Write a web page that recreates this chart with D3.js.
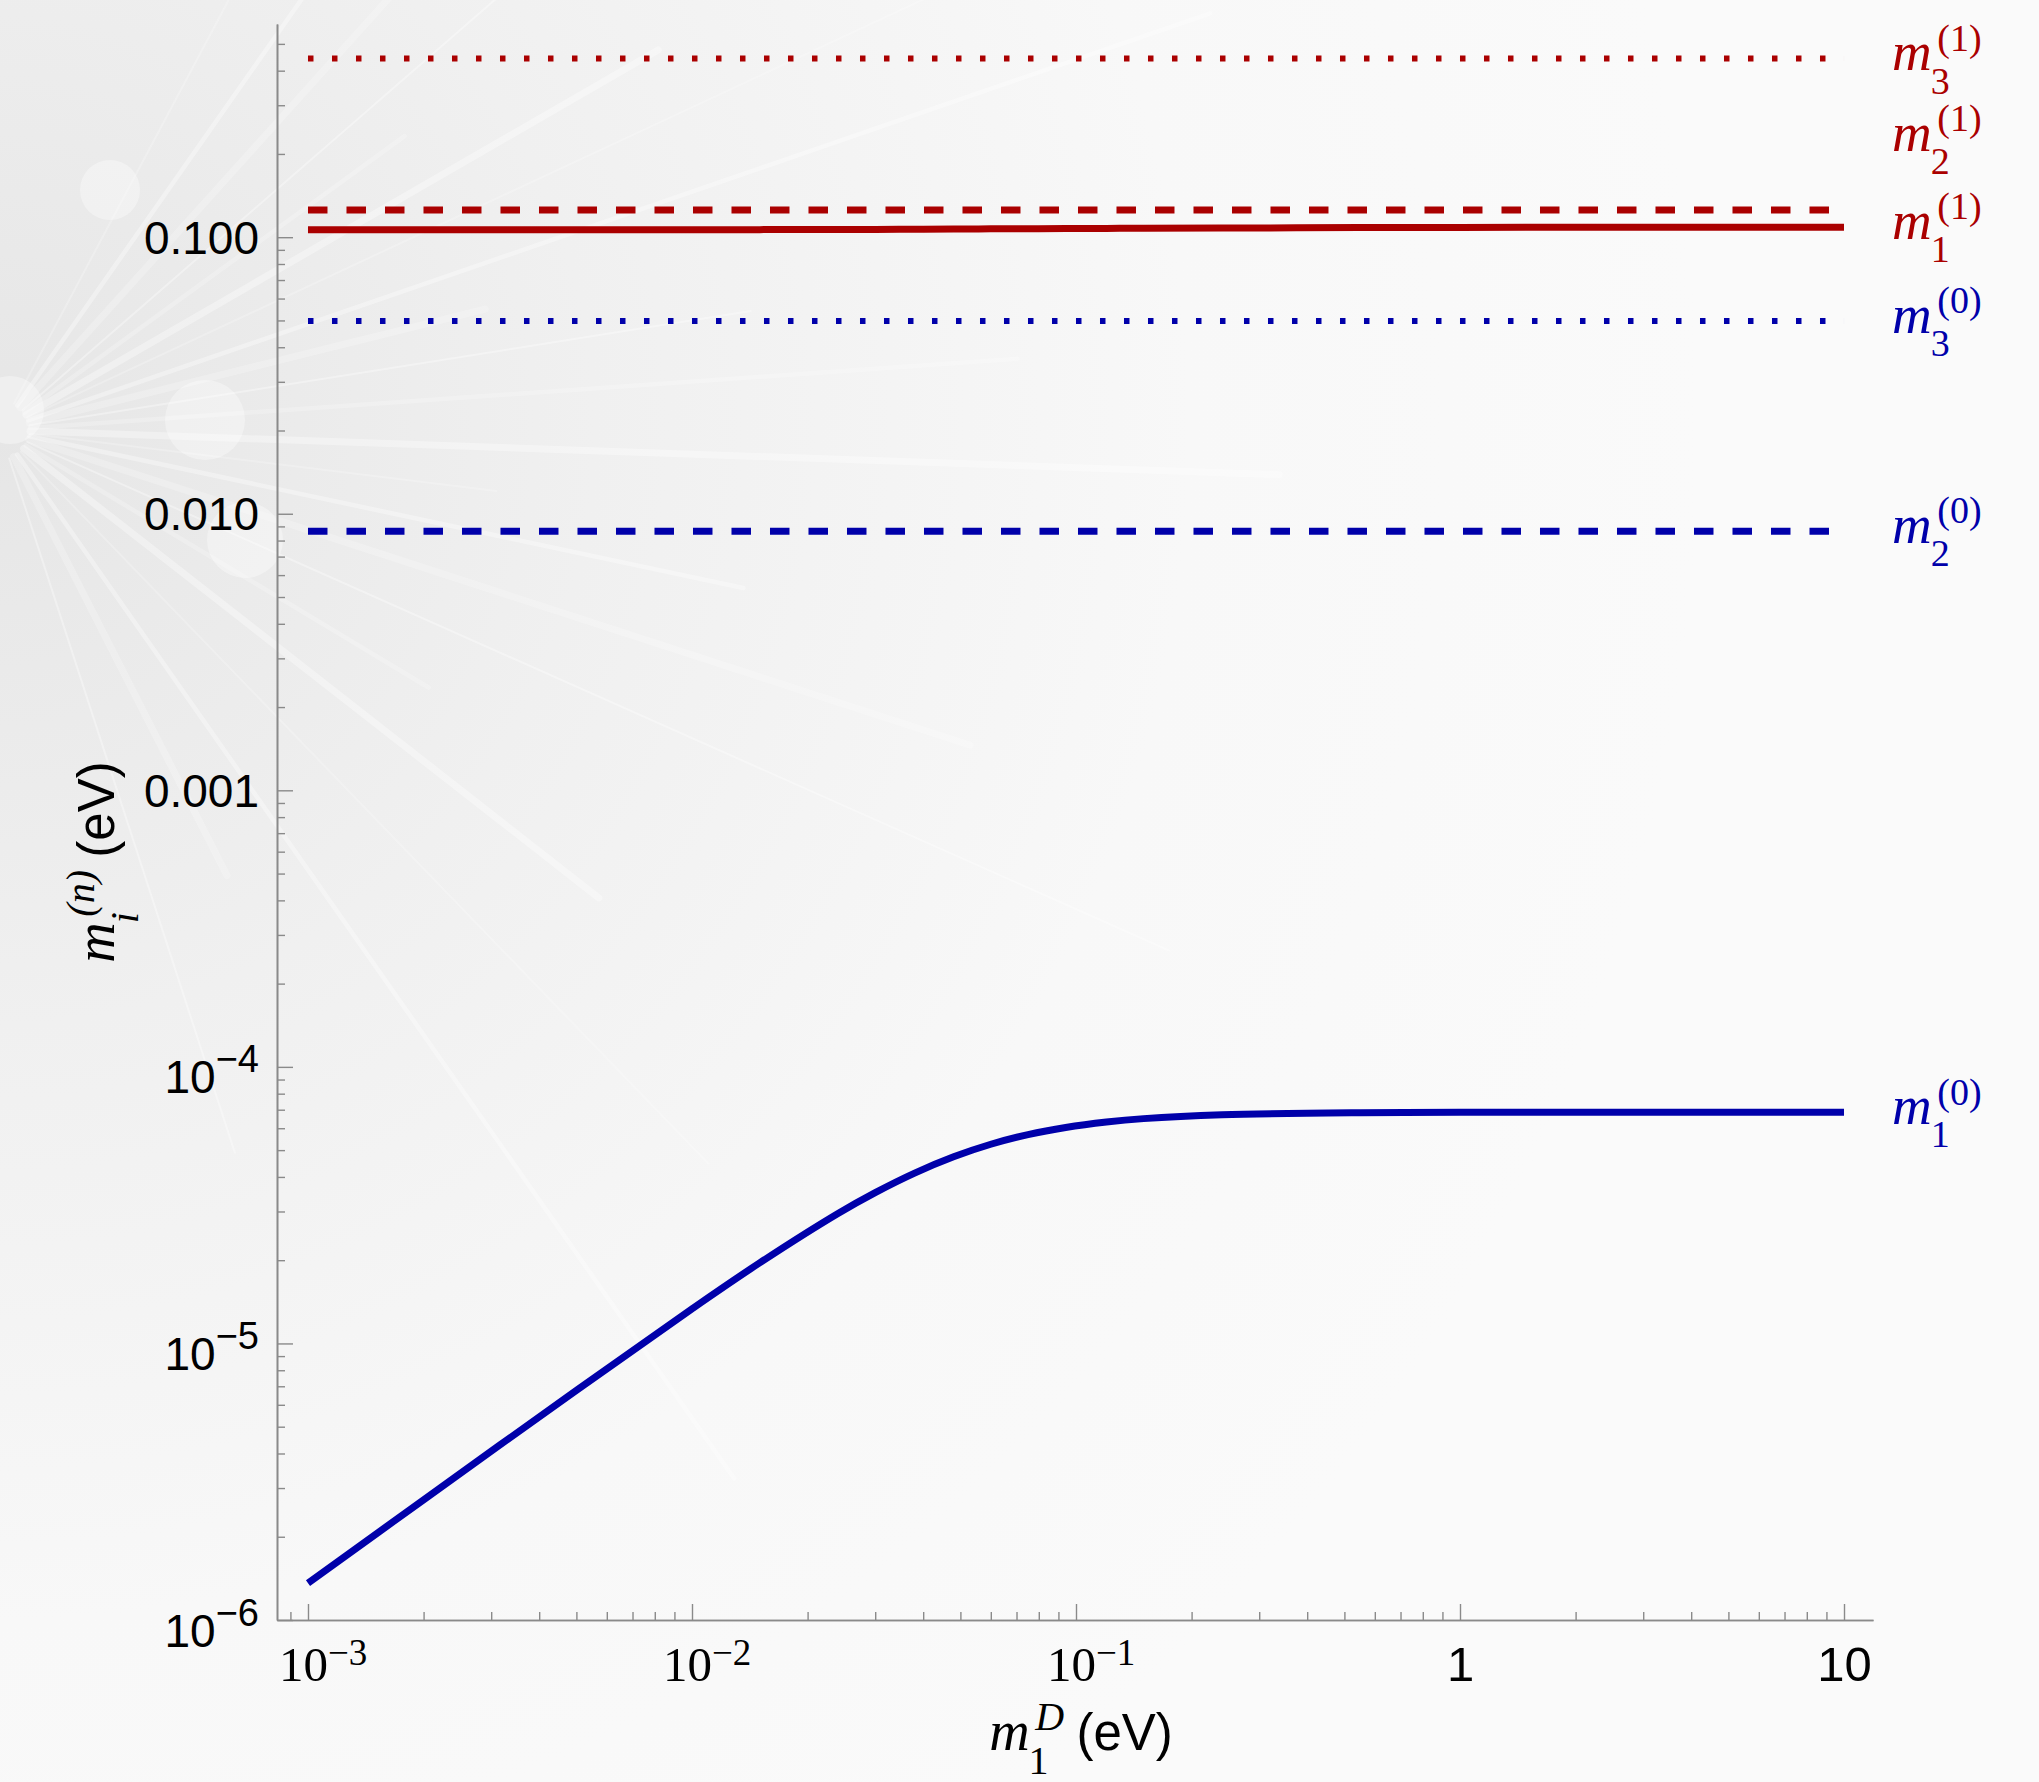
<!DOCTYPE html>
<html><head>
<meta charset="utf-8">
<title>Neutrino masses</title>
<script src="https://d3js.org/d3.v7.min.js"></script>
<style>
  body { margin: 0; background: #f8f8f8; }
  text { font-family: "Liberation Sans", Arial, sans-serif; }
  .serif { font-family: "Liberation Serif", "Times New Roman", serif; }
</style>
</head>
<body>
<div id="chart"></div>
<script>
    const svgWidth = 2039;
    const svgHeight = 1782;

    const red = "#aa0000";
    const blue = "#0000aa";

    // values
    const mD   = [0.001, 0.002, 0.005, 0.01, 0.015, 0.024, 0.03, 0.038, 0.048, 0.06, 0.075, 0.094, 0.12, 0.15, 0.24, 0.55, 1, 3, 10];
    const m1_0 = [1.36e-6, 2.72e-6, 6.77e-6, 1.334e-5, 1.955e-5, 2.95e-5, 3.51e-5, 4.13e-5, 4.73e-5, 5.25e-5, 5.69e-5, 6.04e-5, 6.32e-5, 6.50e-5, 6.71e-5, 6.83e-5, 6.85e-5, 6.85e-5, 6.85e-5];
    const m1_1 = [0.1063, 0.1063, 0.1064, 0.1065, 0.1065, 0.1066, 0.1067, 0.1069, 0.1070, 0.1072, 0.1073, 0.1074, 0.1076, 0.1077, 0.1079, 0.1083, 0.1085, 0.1087, 0.1087];
    const flatX = [0.001, 10];
    const m2_0 = [0.00865, 0.00865];
    const m3_0 = [0.0498, 0.0498];
    const m2_1 = [0.1255, 0.1255];
    const m3_1 = [0.443, 0.443];

    // line labels on the right
    const labelSub = ["3", "2", "1", "3", "2", "1"];
    const labelSup = ["(1)", "(1)", "(1)", "(0)", "(0)", "(0)"];
    const labelAt  = [0.443, 0.226, 0.1087, 0.0498, 0.00865, 6.85e-5];
    const labelColor = [red, red, red, blue, blue, blue];

    // ticks
    const xTicks = [0.001, 0.01, 0.1, 1, 10];
    const xTickBase = ["10", "10", "10", "1", "10"];
    const xTickExp  = ["\u22123", "\u22122", "\u22121", "", ""];
    const yTicks = [0.1, 0.01, 0.001, 1e-4, 1e-5, 1e-6];
    const yTickBase = ["0.100", "0.010", "0.001", "10", "10", "10"];
    const yTickExp  = ["", "", "", "\u22124", "\u22125", "\u22126"];

    const series = [
        {xs: mD,    ys: m1_0, color: blue, dash: null,       w: 7},
        {xs: flatX, ys: m2_0, color: blue, dash: "19.5 19",  w: 7},
        {xs: flatX, ys: m3_0, color: blue, dash: "5.5 18.5", w: 6},
        {xs: mD,    ys: m1_1, color: red,  dash: null,       w: 7},
        {xs: flatX, ys: m2_1, color: red,  dash: "19.5 19",  w: 7},
        {xs: flatX, ys: m3_1, color: red,  dash: "5.5 18.5", w: 6}
    ];

    const svg = d3.select("#chart").append("svg")
        .attr("width", svgWidth)
        .attr("height", svgHeight);

    // faint photo-like backdrop
    const defs = svg.append("defs");
    const rg = defs.append("radialGradient").attr("id", "bg")
        .attr("gradientUnits", "userSpaceOnUse")
        .attr("cx", 0).attr("cy", 430).attr("r", 1700);
    rg.append("stop").attr("offset", 0).attr("stop-color", "#e6e6e6");
    rg.append("stop").attr("offset", 0.35).attr("stop-color", "#f0f0f0");
    rg.append("stop").attr("offset", 0.7).attr("stop-color", "#f8f8f8");
    rg.append("stop").attr("offset", 1).attr("stop-color", "#fafafa");
    svg.append("rect").attr("width", svgWidth).attr("height", svgHeight).attr("fill", "url(#bg)");

    const rays = svg.append("g").attr("stroke", "#ffffff").attr("stroke-linecap", "round");
    const rayAngles = [-62, -55, -48, -41, -36, -30, -25, -19, -14, -9, -4, 2, 7, 12, 18, 24, 31, 38, 46, 55, 63, 72];
    rayAngles.forEach((a, i) => {
        const len = 500 + (i % 4) * 260;
        const r = a * Math.PI / 180;
        rays.append("line")
            .attr("x1", 30 * Math.cos(r)).attr("y1", 430 + 30 * Math.sin(r))
            .attr("x2", len * Math.cos(r)).attr("y2", 430 + len * Math.sin(r))
            .attr("stroke-width", 2 + (i % 3) * 2.5)
            .attr("stroke-opacity", 0.22 + (i % 2) * 0.12);
    });
    [[10, 410, 34], [205, 420, 40], [245, 540, 38], [110, 190, 30]].forEach(c => {
        svg.append("circle").attr("cx", c[0]).attr("cy", c[1]).attr("r", c[2])
            .attr("fill", "#ffffff").attr("fill-opacity", 0.35);
    });

    // scales: small padding around the data like the original
    const xScale = d3.scaleLog().domain([Math.pow(10, -3.0807), Math.pow(10, 1.0755)]).range([277, 1873]);
    const yScale = d3.scaleLog().domain([1e-6, 0.59]).range([1620, 24]);

    function minorTicks(lo, hi) {
        const out = [];
        for (let e = -7; e <= 1; e++) {
            for (let k = 2; k <= 9; k++) {
                const v = k * Math.pow(10, e);
                if (v > lo && v < hi) out.push(v);
            }
        }
        return out;
    }

    const axisColor = "#8a8a8a";
    function styleAxis(g) {
        g.select(".domain").attr("stroke", axisColor).attr("stroke-width", 1.6);
        g.selectAll(".tick line").attr("stroke", axisColor).attr("stroke-width", 1.4);
    }

    // x axis
    const xMinor = svg.append("g").attr("transform", "translate(0,1620)")
        .call(d3.axisBottom(xScale).tickValues(minorTicks(...xScale.domain())).tickSizeInner(-8).tickSizeOuter(0).tickFormat(""));
    styleAxis(xMinor);
    const xAxis = svg.append("g").attr("transform", "translate(0,1620)")
        .call(d3.axisBottom(xScale).tickValues(xTicks).tickSizeInner(-16).tickSizeOuter(0).tickFormat(""));
    styleAxis(xAxis);
    xAxis.selectAll(".tick").each(function (d, i) {
        const t = d3.select(this).append("text")
            .attr("fill", "#000").attr("y", 61)
            .attr("text-anchor", "middle")
            .style("font-size", "49px");
        if (xTickExp[i]) {
            t.attr("class", "serif").attr("dx", "0.3em");
            t.append("tspan").text(xTickBase[i]);
            t.append("tspan").attr("dy", "-0.42em").style("font-size", "37px").text(xTickExp[i]);
        } else {
            t.text(xTickBase[i]);
        }
    });

    // y axis
    const yMinor = svg.append("g").attr("transform", "translate(277,0)")
        .call(d3.axisLeft(yScale).tickValues(minorTicks(...yScale.domain())).tickSizeInner(-8).tickSizeOuter(0).tickFormat(""));
    styleAxis(yMinor);
    const yAxis = svg.append("g").attr("transform", "translate(277,0)")
        .call(d3.axisLeft(yScale).tickValues(yTicks).tickSizeInner(-16).tickSizeOuter(0).tickFormat(""));
    styleAxis(yAxis);
    yAxis.selectAll(".tick").each(function (d, i) {
        const t = d3.select(this).append("text")
            .attr("fill", "#000").attr("x", -18)
            .attr("text-anchor", "end")
            .style("font-size", "46px");
        if (yTickExp[i]) {
            t.attr("y", 26);
            t.append("tspan").text(yTickBase[i]);
            t.append("tspan").attr("dy", "-0.55em").style("font-size", "38px").text(yTickExp[i]);
        } else {
            t.attr("y", 16).text(yTickBase[i]);
        }
    });

    // lines
    const line = d3.line()
        .x(d => xScale(d[0]))
        .y(d => yScale(d[1]))
        .curve(d3.curveCatmullRom.alpha(0.5));

    series.forEach(s => {
        svg.append("path")
            .datum(s.xs.map((x, i) => [x, s.ys[i]]))
            .attr("fill", "none")
            .attr("stroke", s.color)
            .attr("stroke-width", s.w)
            .attr("stroke-dasharray", s.dash)
            .attr("d", line);
    });

    // m_sub^sup builder
    function mathLabel(parent, o) {
        const g = parent.append("g").attr("fill", o.color);
        const m = g.append("text").attr("class", "serif")
            .style("font-style", "italic").style("font-size", o.size + "px").text("m");
        const w = m.node().getComputedTextLength();
        const sub = g.append("text").attr("class", "serif")
            .attr("x", w - 0.02 * o.size).attr("y", 0.42 * o.size)
            .style("font-size", o.small + "px")
            .style("font-style", o.subItalic ? "italic" : "normal").text(o.sub);
        const sup = g.append("text").attr("class", "serif")
            .attr("x", w + 0.1 * o.size).attr("y", -0.36 * o.size)
            .style("font-size", o.small + "px")
            .style("font-style", o.supItalic ? "italic" : "normal").text(o.sup);
        let end = Math.max(w + sub.node().getComputedTextLength(), w + 0.1 * o.size + sup.node().getComputedTextLength());
        if (o.tail) {
            const t = g.append("text").attr("x", end + 0.22 * o.size)
                .attr("fill", "#000").style("font-size", o.tailSize + "px").text(o.tail);
            end = end + 0.22 * o.size + t.node().getComputedTextLength();
        }
        return {g: g, width: end};
    }

    // right labels
    labelAt.forEach((v, i) => {
        const lab = mathLabel(svg, {color: labelColor[i], size: 55, small: 38, sub: labelSub[i], sup: labelSup[i]});
        lab.g.attr("transform", "translate(1892," + (yScale(v) + 12) + ")");
    });

    // axis titles
    const xt = mathLabel(svg, {color: "#000", size: 56, small: 40, sub: "1", sup: "D", supItalic: true, tail: "(eV)", tailSize: 51});
    xt.g.attr("transform", "translate(" + (1081 - xt.width / 2) + ",1750)");

    const yt = mathLabel(svg, {color: "#000", size: 56, small: 40, sub: "i", subItalic: true, sup: "(n)", supItalic: true, tail: "(eV)", tailSize: 51});
    yt.g.attr("transform", "translate(114," + (862 + yt.width / 2) + ") rotate(-90)");
</script>
</body>
</html>
